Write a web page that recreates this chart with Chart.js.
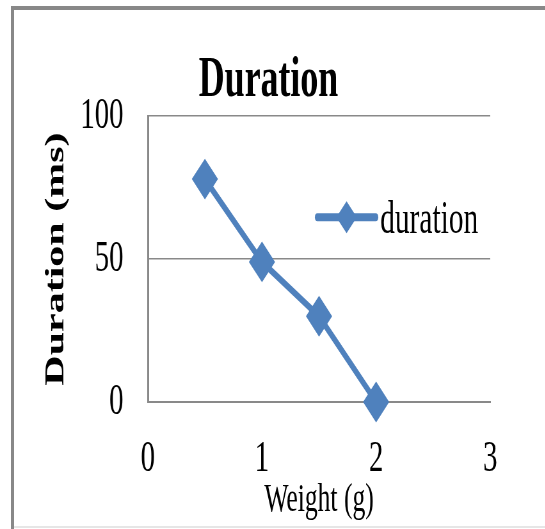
<!DOCTYPE html>
<html><head><meta charset="utf-8">
<script src="https://cdn.jsdelivr.net/npm/chart.js@4/dist/chart.umd.min.js"></script>
<style>
html,body{margin:0;padding:0;background:#fff;overflow:hidden;width:545px;height:529px;}
#frame{position:absolute;left:11px;top:6px;width:540px;height:540px;border-top:4px solid #888;border-left:3px solid #888;box-sizing:border-box;}
#bottomline{position:absolute;left:14px;top:526px;width:531px;height:2px;background:#e6e6e6;}
#wrap{position:absolute;left:0;top:0;width:839px;height:529px;transform:scaleX(0.64);transform-origin:0 0;}
</style></head><body>
<div id="frame"></div>
<div id="bottomline"></div>
<div id="wrap"><canvas id="c"></canvas></div>
<script>
const chartTitle = 'Duration';
const seriesLabel = 'duration';
const xAxisTitle = 'Weight (g)';
const yAxisTitle = 'Duration (ms)';
const weights = [0.5, 1, 1.5, 2];
const durations = [78, 49, 30, 0];
const xTicks = [0, 1, 2, 3];
const yTicks = [0, 50, 100];

const BLUE = '#4F81BD';
const GRID = '#898989';
const SERIF = '"Liberation Serif", "Times New Roman", serif';

const legendPlugin = {
  id: 'lineLegend',
  afterDraw(chart) {
    const ctx = chart.ctx, a = chart.chartArea, ds = chart.data.datasets[0];
    const cy = a.top + 101;
    const x0 = a.left + 265, x1 = a.left + 356;
    const cx = (x0 + x1) / 2;
    ctx.save();
    ctx.strokeStyle = ds.borderColor;
    ctx.lineWidth = 8;
    ctx.lineCap = 'round';
    ctx.beginPath(); ctx.moveTo(x0, cy); ctx.lineTo(x1, cy); ctx.stroke();
    ctx.fillStyle = ds.borderColor;
    const r = 16;
    ctx.beginPath();
    ctx.moveTo(cx - r, cy); ctx.lineTo(cx, cy - r); ctx.lineTo(cx + r, cy); ctx.lineTo(cx, cy + r);
    ctx.closePath(); ctx.fill();
    ctx.fillStyle = '#000';
    ctx.font = '46px ' + SERIF;
    ctx.textBaseline = 'alphabetic';
    ctx.textAlign = 'left';
    ctx.fillText(ds.label, a.left + 363, a.top + 117);
    ctx.restore();
  }
};

new Chart(document.getElementById('c'), {
  type: 'line',
  data: {
    datasets: [{
      label: seriesLabel,
      data: weights.map((w, i) => ({x: w, y: durations[i]})),
      borderColor: BLUE,
      backgroundColor: BLUE,
      borderWidth: 7,
      borderJoinStyle: 'round',
      pointStyle: 'rectRot',
      pointRadius: 19,
      pointBorderWidth: 2,
      pointBackgroundColor: BLUE,
      pointBorderColor: BLUE,
      tension: 0,
      fill: false,
      clip: false
    }]
  },
  options: {
    responsive: true,
    maintainAspectRatio: false,
    animation: false,
    events: [],
    layout: {padding: 0},
    plugins: {
      legend: {display: false},
      tooltip: {enabled: false},
      title: {
        display: true,
        text: chartTitle,
        color: '#000',
        font: {family: SERIF, size: 56, weight: 'bold', lineHeight: 1.2},
        padding: {top: 48, bottom: 1}
      }
    },
    scales: {
      x: {
        type: 'linear',
        min: xTicks[0], max: xTicks[xTicks.length - 1],
        afterBuildTicks: s => { s.ticks = xTicks.map(v => ({value: v})); },
        afterFit: s => { s.height = 127; },
        grid: {display: false, drawTicks: false},
        border: {display: true, color: GRID, width: 2},
        ticks: {color: '#000', padding: 30, font: {family: SERIF, size: 45}, maxRotation: 0, autoSkip: false},
        title: {display: true, text: xAxisTitle, color: '#000', font: {family: SERIF, size: 40, lineHeight: 1.2}, padding: {top: 0, bottom: 5}}
      },
      y: {
        type: 'linear',
        position: 'left',
        min: yTicks[0], max: yTicks[yTicks.length - 1],
        afterBuildTicks: s => { s.ticks = yTicks.map(v => ({value: v})); },
        afterFit: s => { s.width = 231; },
        grid: {color: GRID, lineWidth: 1.6, drawTicks: false},
        border: {display: true, color: GRID, width: 3},
        ticks: {color: '#000', padding: 38, font: {family: SERIF, size: 45}},
        title: {display: true, text: yAxisTitle, color: '#000', font: {family: SERIF, size: 42, weight: 'bold', lineHeight: 1.2}, padding: {top: 63, bottom: 0}}
      },
      yRight: {
        type: 'linear',
        position: 'right',
        min: 0, max: 1,
        afterFit: s => { s.width = 73; },
        grid: {display: false, drawTicks: false},
        border: {display: false},
        ticks: {display: false}
      }
    }
  },
  plugins: [legendPlugin]
});
</script>
</body></html>
